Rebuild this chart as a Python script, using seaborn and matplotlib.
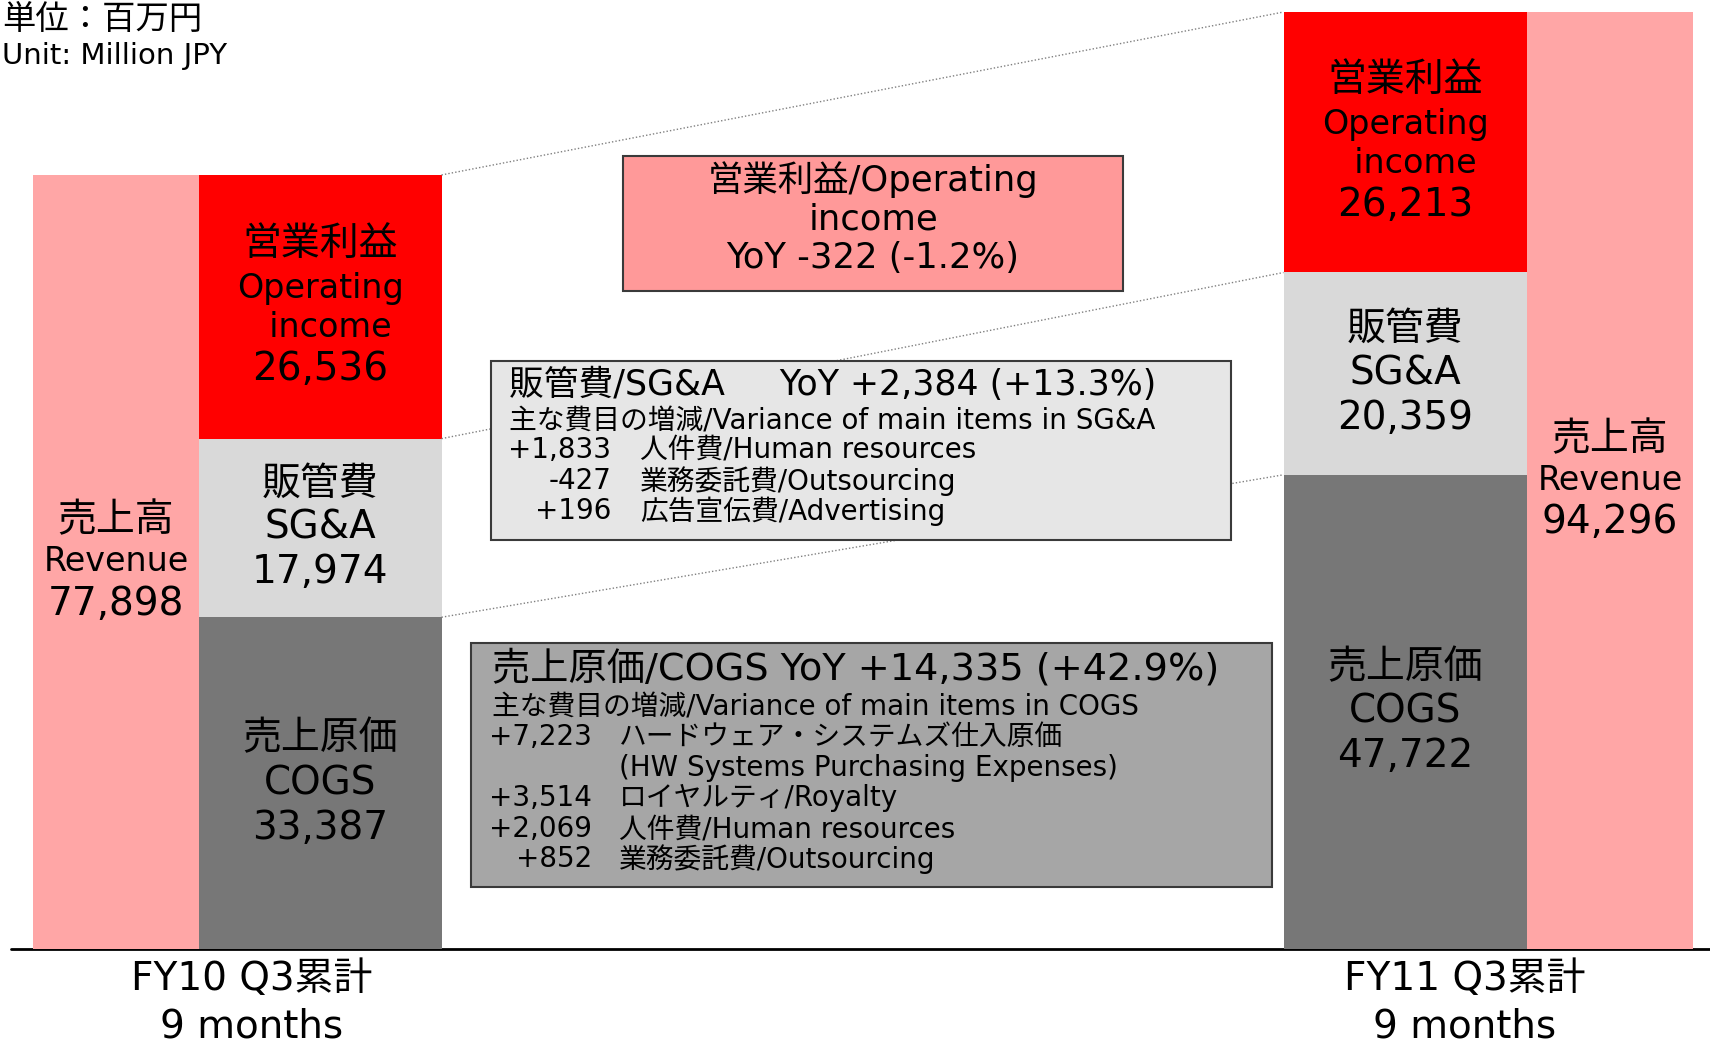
import numpy as np
import pandas as pd
import matplotlib
matplotlib.use('Agg')
import matplotlib.pyplot as plt
from matplotlib.patches import Rectangle
import seaborn as sns

# 単位：百万円
periods = ['FY10 Q3累計', 'FY11 Q3累計']
period_sub = ['9 months', '9 months']
revenue = [77898, 94296]
cogs = [33387, 47722]
sga = [17974, 20359]
op_income = [26536, 26213]

op_box_lines = ['営業利益/Operating', 'income', 'YoY -322 (-1.2%)']
sga_title = '販管費/SG&A     YoY +2,384 (+13.3%)'
sga_sub = '主な費目の増減/Variance of main items in SG&A'
sga_items = ['+1,833', '-427', '+196']
sga_item_names = ['人件費/Human resources', '業務委託費/Outsourcing', '広告宣伝費/Advertising']
cogs_title = '売上原価/COGS YoY +14,335 (+42.9%)'
cogs_sub = '主な費目の増減/Variance of main items in COGS'
cogs_items = ['+7,223', '', '+3,514', '+2,069', '+852']
cogs_item_names = ['ハードウェア・システムズ仕入原価', '(HW Systems Purchasing Expenses)',
                   'ロイヤルティ/Royalty', '人件費/Human resources', '業務委託費/Outsourcing']

# colours
c_rev = '#FFA6A6'
c_op = '#FF0000'
c_sga = '#D9D9D9'
c_cogs = '#777777'

sns.set_theme(style='white')
plt.rcParams['font.family'] = ['DejaVu Sans', 'Noto Sans CJK JP']

W, H = 1710, 1047
fig = plt.figure(figsize=(W / 100, H / 100), dpi=100)
ax = fig.add_axes([0, 0, 1, 1])


def fx(x):
    return x / W


def fy(y):
    return 1 - y / H


# y scale: baseline at pixel 949, tallest bar reaches pixel 12
base_px, top_px = 949, 12
unit = max(revenue) / (base_px - top_px)

rev_x = [116, 1610]
rev_w = 166
stk_x = [320, 1405]
stk_w = 243

df = pd.DataFrame({'period': periods, 'revenue': revenue, 'cogs': cogs,
                   'sga': sga, 'op': op_income})
df['low'] = df['cogs']
df['mid'] = df['cogs'] + df['sga']
df['total'] = df['mid'] + df['op']

# baseline
ax.plot([11, W], [0, 0], color='black', lw=2, zorder=0.5)

# revenue bars
sns.barplot(x=rev_x, y=df['revenue'].values, native_scale=True,
            width=rev_w / (rev_x[1] - rev_x[0]), color=c_rev, saturation=1,
            linewidth=0, errorbar=None, ax=ax)
# stacked cost bars (drawn as overlapping cumulative layers)
for col, c in [('total', c_op), ('mid', c_sga), ('low', c_cogs)]:
    sns.barplot(x=stk_x, y=df[col].values, native_scale=True,
                width=stk_w / (stk_x[1] - stk_x[0]), color=c, saturation=1,
                linewidth=0, errorbar=None, ax=ax)

# dotted connectors between segment boundaries
for col in ['total', 'mid', 'low']:
    ax.plot([stk_x[0] + stk_w / 2, stk_x[1] - stk_w / 2], df[col].values,
            ls=(0, (1, 1.5)), color='#808080', lw=1, zorder=1.5)


def seg_label(x, ymid, lines):
    for txt, size, dy in lines:
        ax.annotate(txt, (x, ymid), xytext=(0, dy), textcoords='offset points',
                    ha='center', va='center', fontsize=size, color='black', zorder=5)


for i in range(2):
    r = df.iloc[i]
    seg_label(rev_x[i], r['revenue'] / 2,
              [('売上高', 28, 30), ('Revenue', 24, 0), (f"{r['revenue']:,}", 28, -30)])
    seg_label(stk_x[i], (r['mid'] + r['total']) / 2,
              [('営業利益', 28, 45), ('  income', 24, -15), ('Operating', 24, 13),
               (f"{r['op']:,}", 28, -45)])
    seg_label(stk_x[i], (r['low'] + r['mid']) / 2,
              [('販管費', 28, 32), ('SG&A', 28, 0), (f"{r['sga']:,}", 28, -32)])
    seg_label(stk_x[i], r['low'] / 2,
              [('売上原価', 28, 32), ('COGS', 28, 0), (f"{r['cogs']:,}", 28, -32)])

ax.set_xlim(0, W)
ax.set_ylim(-(H - base_px) * unit, base_px * unit)
ax.axis('off')


def box(x0, y0, x1, y1, fc):
    fig.add_artist(Rectangle((fx(x0), fy(y1)), (x1 - x0) / W, (y1 - y0) / H,
                             transform=fig.transFigure, facecolor=fc,
                             edgecolor='#3a3a3a', lw=1.5, zorder=3))


def ftext(x, y, s, size, ha='left'):
    fig.text(fx(x), fy(y), s, ha=ha, va='center', fontsize=size, color='black', zorder=4)


# operating income box
box(623, 156, 1123, 291, '#FF9999')
for s, y in zip(op_box_lines, [180, 219, 258]):
    ftext(873, y, s, 25.5, ha='center')

# SG&A box
box(491, 361, 1231, 540, '#E6E6E6')
ftext(509, 385, sga_title, 25)
ftext(509, 421, sga_sub, 20)
for num, name, y in zip(sga_items, sga_item_names, [450, 481, 511]):
    ftext(611, y, num, 20, ha='right')
    ftext(640, y, name, 20)

# COGS box
box(471, 643, 1272, 887, '#A6A6A6')
ftext(492, 669, cogs_title, 27.5)
ftext(492, 707, cogs_sub, 20)
for num, name, y in zip(cogs_items, cogs_item_names, [737, 768, 798, 829, 859]):
    if num:
        ftext(592, y, num, 20, ha='right')
    ftext(619, y, name, 20)

# unit note
ftext(2, 19, '単位：百万円', 24)
ftext(2, 56, 'Unit: Million JPY', 21)

# period labels
for xc, p, sub in zip([252, 1465], periods, period_sub):
    ftext(xc, 979, p, 28, ha='center')
    ftext(xc, 1026, sub, 28, ha='center')

fig.savefig('out.png', dpi=100)
